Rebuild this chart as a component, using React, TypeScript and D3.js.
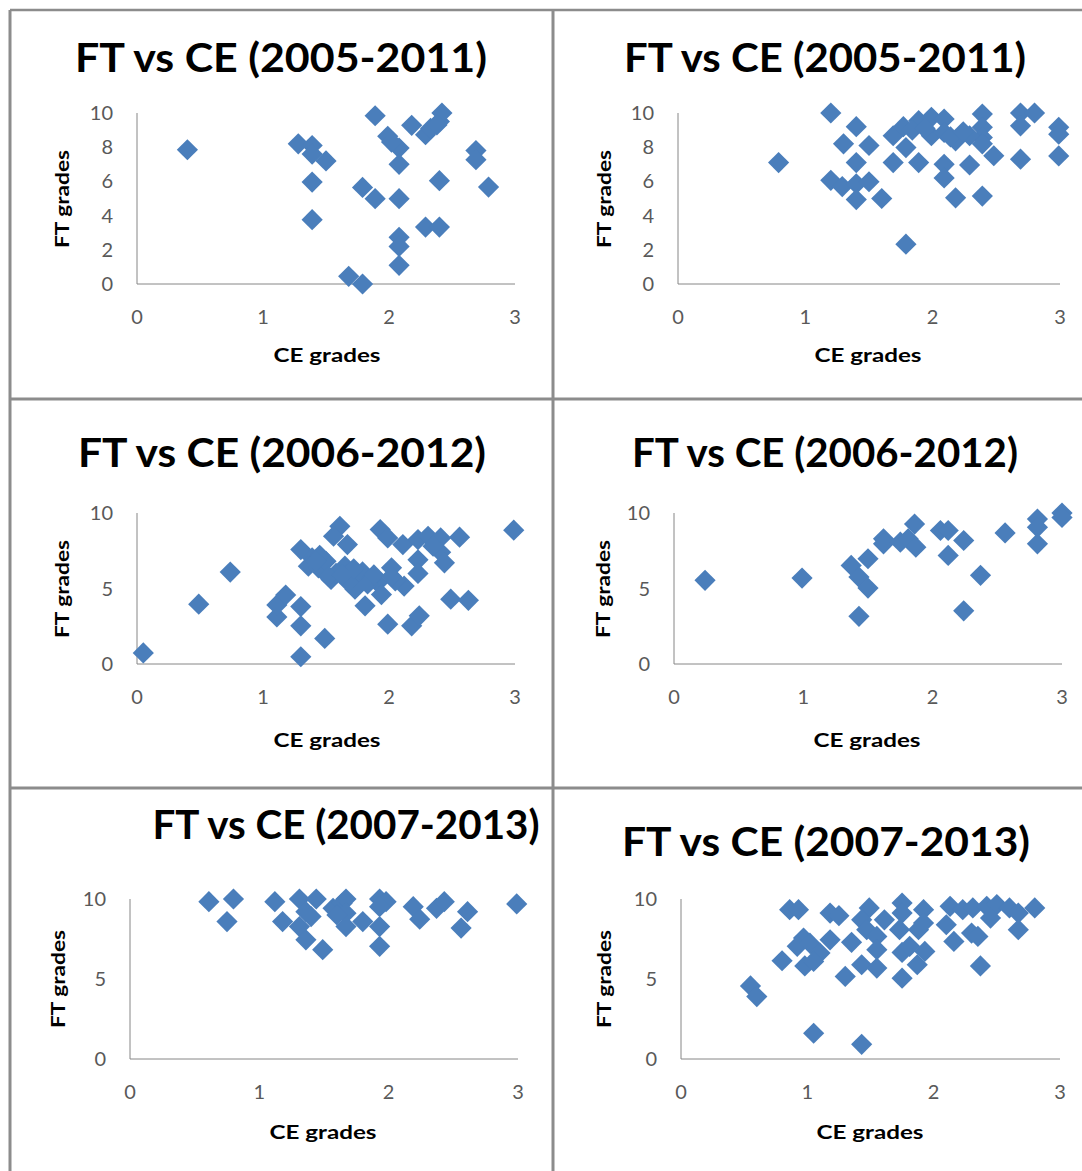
import React from "react";
import * as d3 from "d3";

// ---------- data ----------
const xTicks = [0, 1, 2, 3];
const yTicksFine = [0, 2, 4, 6, 8, 10];
const yTicksCoarse = [0, 5, 10];
const titles = [
  "FT vs CE (2005-2011)",
  "FT vs CE (2005-2011)",
  "FT vs CE (2006-2012)",
  "FT vs CE (2006-2012)",
  "FT vs CE (2007-2013)",
  "FT vs CE (2007-2013)",
];
const xLabel = "CE grades";
const yLabel = "FT grades";

const ce1 = [0.40, 1.28, 1.39, 1.39, 1.50, 1.39, 1.39, 1.89, 1.99, 2.08, 2.08, 1.79, 1.89, 2.08, 2.18, 2.29, 2.33, 2.40, 2.42, 2.38, 2.69, 2.69, 2.40, 2.79, 2.29, 2.40, 2.08, 2.08, 2.08, 1.68, 1.79, 2.02];
const ft1 = [7.85, 8.2, 8.1, 7.6, 7.2, 5.96, 3.76, 9.84, 8.64, 7.95, 7.0, 5.65, 4.99, 4.99, 9.28, 8.73, 9.1, 9.5, 10.0, 9.3, 7.8, 7.27, 6.04, 5.67, 3.33, 3.33, 2.73, 2.2, 1.09, 0.45, 0.0, 8.3];

const ce2 = [0.79, 1.20, 1.40, 1.30, 1.50, 1.40, 1.20, 1.29, 1.40, 1.50, 1.40, 1.60, 1.79, 1.69, 1.69, 1.79, 1.77, 1.89, 1.89, 1.99, 2.09, 1.99, 2.09, 2.18, 2.09, 2.09, 2.18, 2.29, 2.39, 2.39, 2.39, 2.29, 2.39, 2.48, 2.39, 2.69, 2.80, 2.69, 2.69, 2.99, 2.99, 2.99, 1.84, 1.94, 2.14, 2.24];
const ft2 = [7.1, 10.0, 9.2, 8.2, 8.1, 7.1, 6.06, 5.7, 5.86, 5.98, 4.94, 5.0, 2.33, 7.1, 8.67, 7.98, 9.2, 7.1, 9.55, 9.75, 9.65, 8.67, 8.86, 8.37, 7.0, 6.2, 5.04, 6.96, 9.94, 9.16, 8.57, 8.67, 8.2, 7.5, 5.14, 10.0, 10.0, 9.25, 7.3, 9.16, 8.76, 7.49, 9.0, 9.1, 8.6, 8.9];

const ce3 = [0.05, 0.49, 0.74, 1.11, 1.11, 1.18, 1.30, 1.30, 1.30, 1.49, 1.30, 1.39, 1.36, 1.44, 1.50, 1.61, 1.56, 1.67, 1.54, 1.65, 1.75, 1.79, 1.81, 1.93, 1.99, 1.91, 1.99, 2.02, 2.11, 2.23, 2.31, 2.41, 2.56, 2.41, 2.44, 2.23, 2.23, 2.12, 2.18, 2.24, 2.49, 2.63, 2.99, 1.94, 1.73, 1.58, 1.85, 2.05, 2.35, 1.45, 1.52, 1.68, 1.72, 1.83, 1.88, 2.02, 1.42, 1.63];
const ft3 = [0.73, 3.96, 6.09, 3.12, 3.91, 4.57, 3.8, 2.53, 0.48, 1.69, 7.58, 7.03, 6.48, 6.37, 6.8, 9.12, 8.46, 7.91, 5.6, 6.48, 5.71, 6.1, 3.85, 8.9, 8.35, 5.38, 2.64, 6.37, 7.91, 8.24, 8.46, 8.35, 8.4, 7.4, 6.7, 6.9, 6.0, 5.16, 2.53, 3.19, 4.29, 4.22, 8.86, 4.6, 4.95, 6.0, 5.6, 5.5, 7.8, 7.2, 5.8, 5.4, 6.3, 5.3, 5.9, 5.8, 6.8, 5.9];

const ce4 = [0.24, 0.99, 1.37, 1.50, 1.43, 1.50, 1.43, 1.62, 1.62, 1.75, 1.81, 1.86, 1.87, 2.06, 2.12, 2.12, 2.24, 2.37, 2.24, 2.56, 2.81, 2.81, 2.81, 3.00, 3.00];
const ft4 = [5.54, 5.69, 6.53, 6.97, 5.76, 5.03, 3.16, 8.29, 7.96, 8.07, 8.29, 9.27, 7.74, 8.84, 8.84, 7.19, 8.18, 5.87, 3.52, 8.68, 9.6, 9.05, 7.96, 10.0, 9.71];

const ce5 = [0.61, 0.80, 0.75, 1.12, 1.18, 1.31, 1.44, 1.36, 1.31, 1.36, 1.49, 1.57, 1.64, 1.67, 1.67, 1.67, 1.80, 1.93, 1.98, 1.93, 1.93, 1.93, 2.19, 2.24, 2.37, 2.43, 2.61, 2.56, 2.99, 1.60, 1.40];
const ft5 = [9.83, 10.0, 8.59, 9.83, 8.59, 10.0, 10.0, 9.21, 8.28, 7.45, 6.83, 9.42, 9.73, 10.0, 9.11, 8.28, 8.59, 10.0, 9.83, 9.52, 8.28, 7.04, 9.52, 8.74, 9.42, 9.83, 9.21, 8.18, 9.69, 9.0, 8.9];

const ce6 = [0.55, 0.60, 1.05, 1.43, 0.80, 0.86, 0.93, 1.18, 1.25, 0.97, 0.92, 1.02, 1.18, 1.10, 0.98, 1.05, 1.30, 1.35, 1.43, 1.49, 1.43, 1.47, 1.55, 1.55, 1.55, 1.61, 1.75, 1.75, 1.73, 1.75, 1.75, 1.87, 1.92, 1.88, 1.92, 1.93, 1.81, 2.13, 2.10, 2.16, 2.23, 2.31, 2.30, 2.35, 2.37, 2.42, 2.50, 2.45, 2.60, 2.67, 2.67, 2.80];
const ft6 = [4.57, 3.9, 1.61, 0.92, 6.14, 9.33, 9.33, 9.12, 8.96, 7.56, 7.04, 7.24, 7.45, 6.62, 5.82, 6.1, 5.16, 7.29, 5.89, 9.44, 8.7, 8.08, 7.66, 6.83, 5.68, 8.7, 9.75, 9.12, 8.08, 6.66, 5.05, 5.89, 9.33, 8.08, 8.5, 6.72, 7.04, 9.54, 8.39, 7.35, 9.33, 9.44, 7.87, 7.66, 5.82, 9.54, 9.65, 8.81, 9.44, 9.12, 8.08, 9.44];

const ceSeries = [ce1, ce2, ce3, ce4, ce5, ce6];
const ftSeries = [ft1, ft2, ft3, ft4, ft5, ft6];
const yTickSets = [yTicksFine, yTicksFine, yTicksCoarse, yTicksCoarse, yTicksCoarse, yTicksCoarse];

// ---------- layout ----------
const W = 1082;
const H = 1171;
const layouts = [
  { x0: 137, x1: 515, yb: 284, yt: 113, tx: 281, ty: 72, tw: 412, xl: 327, xly: 362, yl: 62, yly: 199 },
  { x0: 678, x1: 1060, yb: 284, yt: 113, tx: 825, ty: 72, tw: 402, xl: 868, xly: 362, yl: 604, yly: 199 },
  { x0: 137, x1: 515, yb: 664, yt: 513, tx: 282, ty: 467, tw: 408, xl: 327, xly: 747, yl: 62, yly: 589 },
  { x0: 674, x1: 1062, yb: 664, yt: 513, tx: 825, ty: 467, tw: 386, xl: 867, xly: 747, yl: 603, yly: 589 },
  { x0: 130, x1: 518, yb: 1059, yt: 899, tx: 346, ty: 839, tw: 387, xl: 323, xly: 1139, yl: 58, yly: 979 },
  { x0: 681, x1: 1060, yb: 1059, yt: 899, tx: 826, ty: 856, tw: 408, xl: 870, xly: 1139, yl: 604, yly: 979 },
];

const FONT = "Lato, 'Open Sans', sans-serif";
const BLUE = "#4A7EBB";
const diamond = d3.symbol().type(d3.symbolSquare).size(225)();

function Panel({ i }: { i: number }) {
  const L = layouts[i];
  const x = d3.scaleLinear().domain([0, 3]).range([L.x0, L.x1]);
  const y = d3.scaleLinear().domain([0, 10]).range([L.yb, L.yt]);
  const ce = ceSeries[i];
  const ft = ftSeries[i];
  return (
    <g>
      <text x={L.tx} y={L.ty} textAnchor="middle" fontFamily={FONT} fontWeight="bold" fontSize={40}
        textLength={L.tw} lengthAdjust="spacingAndGlyphs" fill="#000">{titles[i]}</text>
      <line x1={x(0)} x2={x(0)} y1={y(0)} y2={y(10)} stroke="#868686" strokeWidth={1} />
      <line x1={x(0)} x2={x(3)} y1={y(0)} y2={y(0)} stroke="#868686" strokeWidth={1} />
      {yTickSets[i].map((t) => (
        <text key={"y" + t} x={x(0) - 24} y={y(t)} dy="0.35em" textAnchor="end" fontFamily={FONT}
          fontSize={20} fill="#595959">{t}</text>
      ))}
      {xTicks.map((t) => (
        <text key={"x" + t} x={x(t)} y={y(0) + 33} dy="0.35em" textAnchor="middle" fontFamily={FONT}
          fontSize={20} fill="#595959">{t}</text>
      ))}
      <text x={L.xl} y={L.xly} textAnchor="middle" fontFamily={FONT} fontWeight="bold" fontSize={19}
        textLength={107} lengthAdjust="spacingAndGlyphs" fill="#000">{xLabel}</text>
      <text transform={`translate(${L.yl + 7},${L.yly}) rotate(-90)`} textAnchor="middle" fontFamily={FONT}
        fontWeight="bold" fontSize={19} textLength={98} lengthAdjust="spacingAndGlyphs" fill="#000">{yLabel}</text>
      {ce.map((c, k) => (
        <path key={k} d={diamond || ""} transform={`translate(${x(c)},${y(ft[k])}) rotate(45)`} fill={BLUE} />
      ))}
    </g>
  );
}

export default function App() {
  return (
    <svg width={W} height={H} style={{ position: "absolute", left: 0, top: 0, background: "#fff" }}>
      <rect x={0} y={0} width={W} height={H} fill="#fff" />
      {/* frame */}
      <line x1={10} x2={W} y1={10} y2={10} stroke="#8c8c8c" strokeWidth={2.5} />
      <line x1={10} x2={10} y1={10} y2={H} stroke="#8c8c8c" strokeWidth={3} />
      <line x1={553} x2={553} y1={10} y2={H} stroke="#8c8c8c" strokeWidth={3} />
      <line x1={10} x2={W} y1={399} y2={399} stroke="#8c8c8c" strokeWidth={3} />
      <line x1={10} x2={W} y1={788} y2={788} stroke="#8c8c8c" strokeWidth={3} />
      {layouts.map((_, i) => <Panel key={i} i={i} />)}
    </svg>
  );
}
